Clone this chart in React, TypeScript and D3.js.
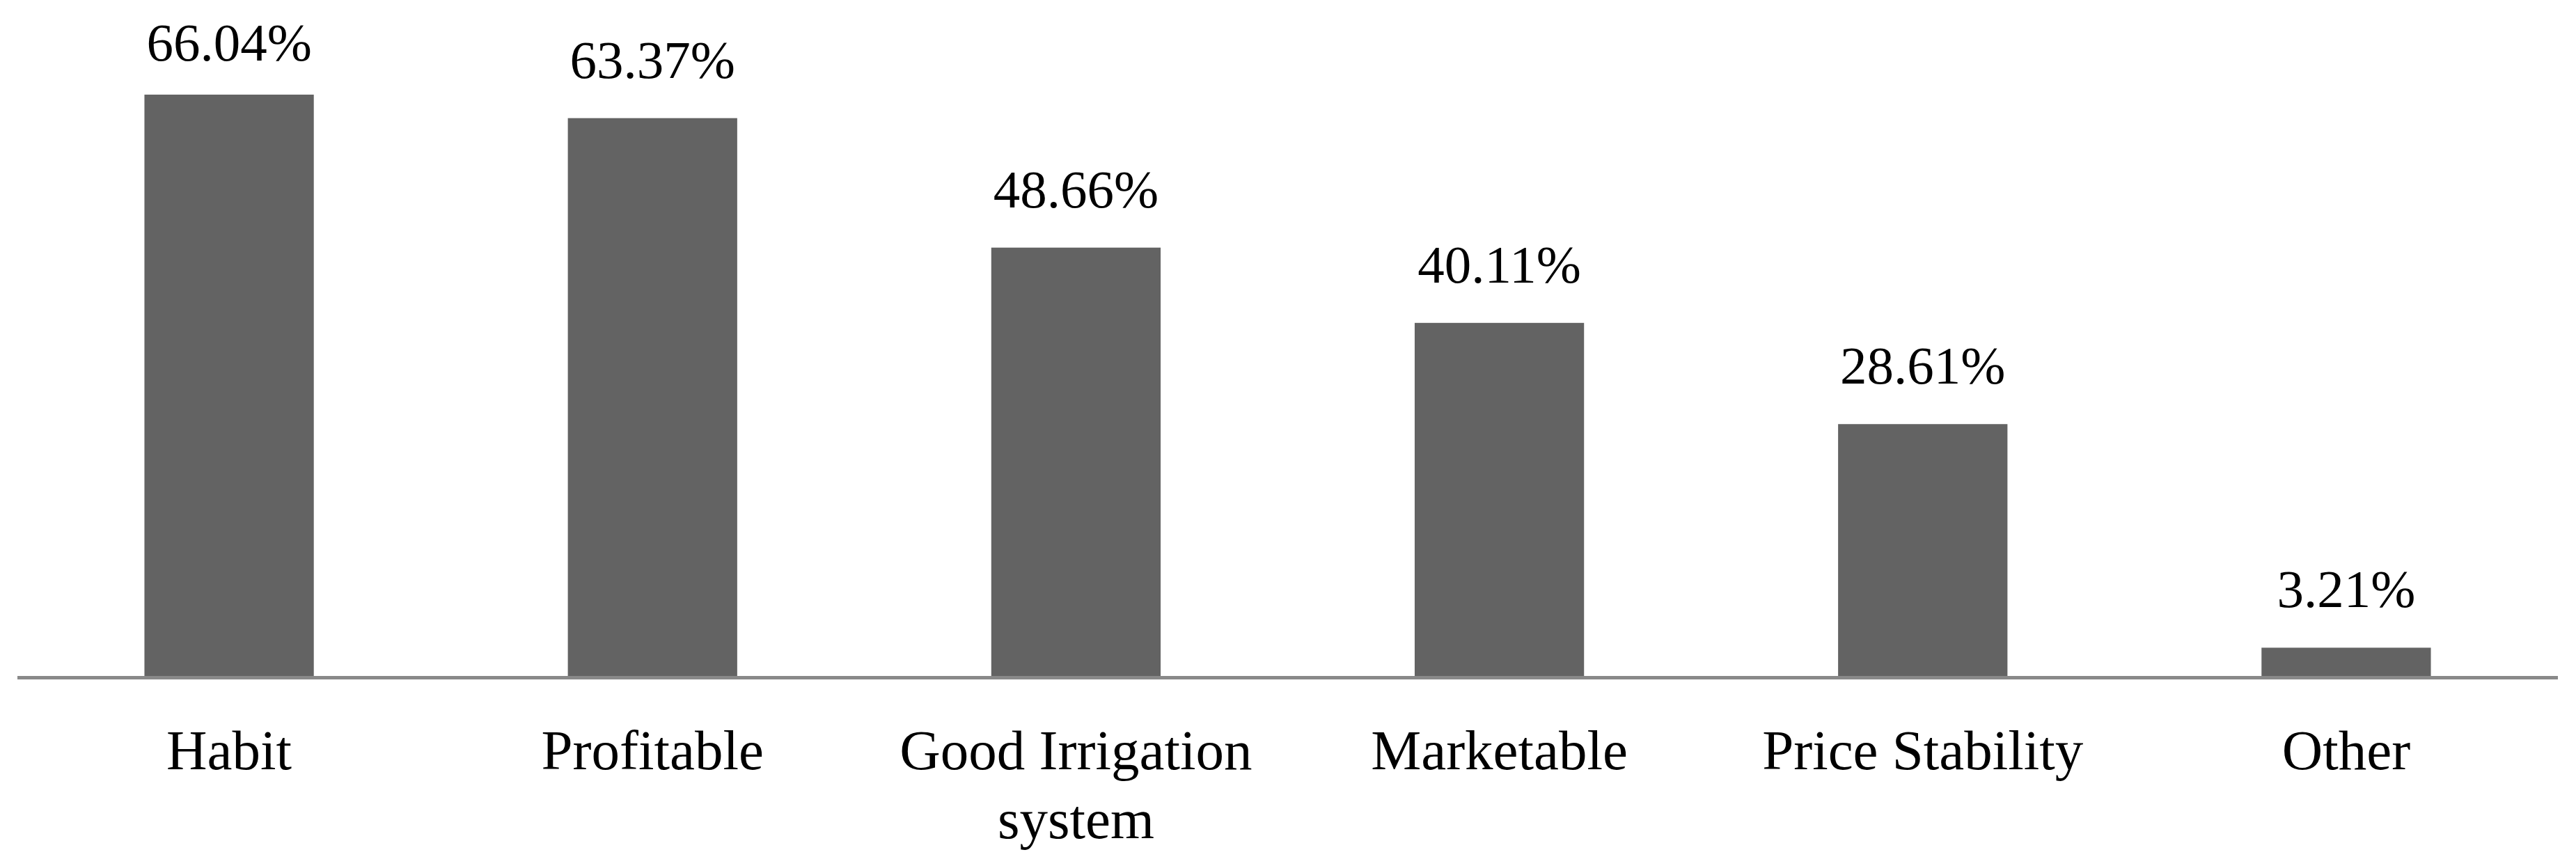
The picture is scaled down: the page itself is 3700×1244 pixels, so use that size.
import React from "react";
import * as d3 from "d3";

const categories: string[][] = [
  ["Habit"],
  ["Profitable"],
  ["Good Irrigation", "system"],
  ["Marketable"],
  ["Price Stability"],
  ["Other"],
];
const values: number[] = [66.04, 63.37, 48.66, 40.11, 28.61, 3.21];
const valueLabels: string[] = ["66.04%", "63.37%", "48.66%", "40.11%", "28.61%", "3.21%"];

const W = 3700;
const H = 1244;
const axisLeft = 25;
const axisRight = 3674;
const baseY = 971;
const FONT = "'Liberation Serif', 'Times New Roman', serif";

export default function App() {
  const keys = categories.map((c) => c.join(" "));
  const x = d3
    .scaleBand<string>()
    .domain(keys)
    .range([axisLeft, axisRight])
    .paddingInner(0.6)
    .paddingOuter(0.3);
  const y = d3.scaleLinear().domain([0, 70]).range([baseY, baseY - 70 * 12.645]);

  return (
    <svg
      width={W}
      height={H}
      style={{ position: "absolute", left: 0, top: 0, background: "#fff" }}
    >
      <rect x={0} y={0} width={W} height={H} fill="#fff" />
      {values.map((v, i) => {
        const k = keys[i];
        const bx = x(k) as number;
        const bw = x.bandwidth();
        const top = y(v);
        const labelY = Math.max(top - 58, 87);
        return (
          <g key={k}>
            <rect x={bx} y={top} width={bw} height={baseY - top} fill="#636363" />
            <text
              x={bx + bw / 2}
              y={labelY}
              textAnchor="middle"
              fontFamily={FONT}
              fontSize={77}
              fill="#000"
            >
              {valueLabels[i]}
            </text>
          </g>
        );
      })}
      <line
        x1={axisLeft}
        x2={axisRight}
        y1={baseY + 2.5}
        y2={baseY + 2.5}
        stroke="#898989"
        strokeWidth={5}
      />
      {categories.map((lines, i) => {
        const k = keys[i];
        const cx = (x(k) as number) + x.bandwidth() / 2;
        return (
          <text
            key={k}
            x={cx}
            y={1105}
            textAnchor="middle"
            fontFamily={FONT}
            fontSize={81}
            fill="#000"
          >
            {lines.map((ln, j) => (
              <tspan key={j} x={cx} dy={j === 0 ? 0 : 99}>
                {ln}
              </tspan>
            ))}
          </text>
        );
      })}
    </svg>
  );
}
